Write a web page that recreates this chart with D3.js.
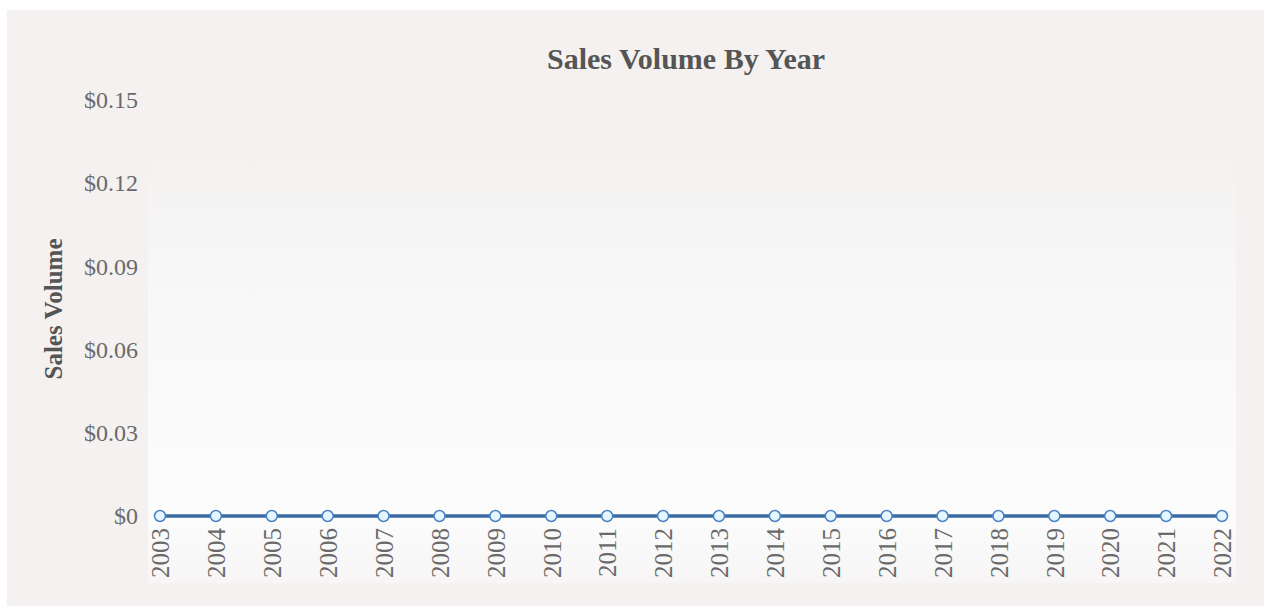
<!DOCTYPE html>
<html>
<head>
<meta charset="utf-8">
<script src="https://cdn.jsdelivr.net/npm/d3@7"></script>
<style>
  body { margin: 0; background: #ffffff; }
</style>
</head>
<body>
<script>
const width = 1266;
const height = 609;

// data
const years = ['2003', '2004', '2005', '2006', '2007', '2008', '2009', '2010', '2011', '2012',
  '2013', '2014', '2015', '2016', '2017', '2018', '2019', '2020', '2021', '2022'];
const salesVolume = [0, 0, 0, 0, 0, 0, 0, 0, 0, 0, 0, 0, 0, 0, 0, 0, 0, 0, 0, 0];
const yTicks = [0, 0.03, 0.06, 0.09, 0.12, 0.15];

const svg = d3.select('body')
  .append('svg')
  .attr('width', width)
  .attr('height', height);

// background gradient for the plot area
const grad = svg.append('defs')
  .append('linearGradient')
  .attr('id', 'plot-bg')
  .attr('x1', '0%').attr('y1', '0%')
  .attr('x2', '0%').attr('y2', '100%');
grad.append('stop').attr('offset', '0%').attr('stop-color', '#f2f1ef');
grad.append('stop').attr('offset', '40%').attr('stop-color', '#f9f8f9');
grad.append('stop').attr('offset', '85%').attr('stop-color', '#fcfcfd');
grad.append('stop').attr('offset', '100%').attr('stop-color', '#f7f5f5');

// card
svg.append('rect')
  .attr('x', 7)
  .attr('y', 10)
  .attr('width', width - 9)
  .attr('height', 596)
  .attr('fill', '#f4f1f0');

svg.append('rect')
  .attr('x', 148)
  .attr('y', 123)
  .attr('width', 1088)
  .attr('height', 460)
  .attr('fill', 'url(#plot-bg)');

const x = d3.scalePoint()
  .domain(years)
  .range([160, 1222]);

const y = d3.scaleLinear()
  .domain([0, 0.15])
  .range([516, 100]);

// title
svg.append('text')
  .attr('x', 686)
  .attr('y', 69)
  .attr('text-anchor', 'middle')
  .style('font-family', 'Liberation Serif')
  .style('font-weight', 'bold')
  .style('font-size', '30px')
  .style('fill', '#555555')
  .text('Sales Volume By Year');

// y axis
const yAxis = svg.append('g')
  .attr('transform', 'translate(138,0)')
  .call(d3.axisLeft(y)
    .tickValues(yTicks)
    .tickSize(0)
    .tickPadding(0)
    .tickFormat(d => '$' + d3.format('~g')(+d.toFixed(2))));
yAxis.select('.domain').remove();
yAxis.selectAll('text')
  .style('font-family', 'Liberation Serif')
  .style('font-size', '24px')
  .style('fill', '#6a6a6a');

// y axis title
svg.append('text')
  .attr('transform', 'translate(62,309) rotate(-90)')
  .attr('text-anchor', 'middle')
  .style('font-family', 'Liberation Serif')
  .style('font-weight', 'bold')
  .style('font-size', '25px')
  .style('fill', '#555555')
  .text('Sales Volume');

// x axis
const xAxis = svg.append('g')
  .attr('transform', 'translate(0,527)')
  .call(d3.axisBottom(x).tickSize(0).tickPadding(0));
xAxis.select('.domain').remove();
xAxis.selectAll('text')
  .attr('transform', 'rotate(-90)')
  .attr('text-anchor', 'end')
  .attr('x', -1)
  .attr('y', 0)
  .attr('dy', '0.35em')
  .style('font-family', 'Liberation Serif')
  .style('font-size', '25px')
  .style('fill', '#6a6a6a');

// line
const line = d3.line()
  .x((d, i) => x(years[i]))
  .y(d => y(d));

svg.append('path')
  .datum(salesVolume)
  .attr('d', line)
  .attr('fill', 'none')
  .attr('stroke', '#3a6ba3')
  .attr('stroke-width', 3.5);

svg.selectAll('.dot')
  .data(salesVolume)
  .enter()
  .append('circle')
  .attr('class', 'dot')
  .attr('cx', (d, i) => x(years[i]))
  .attr('cy', d => y(d))
  .attr('r', 5.5)
  .attr('fill', '#e4f6ff')
  .attr('stroke', '#4a82bf')
  .attr('stroke-width', 1.5);
</script>
</body>
</html>
